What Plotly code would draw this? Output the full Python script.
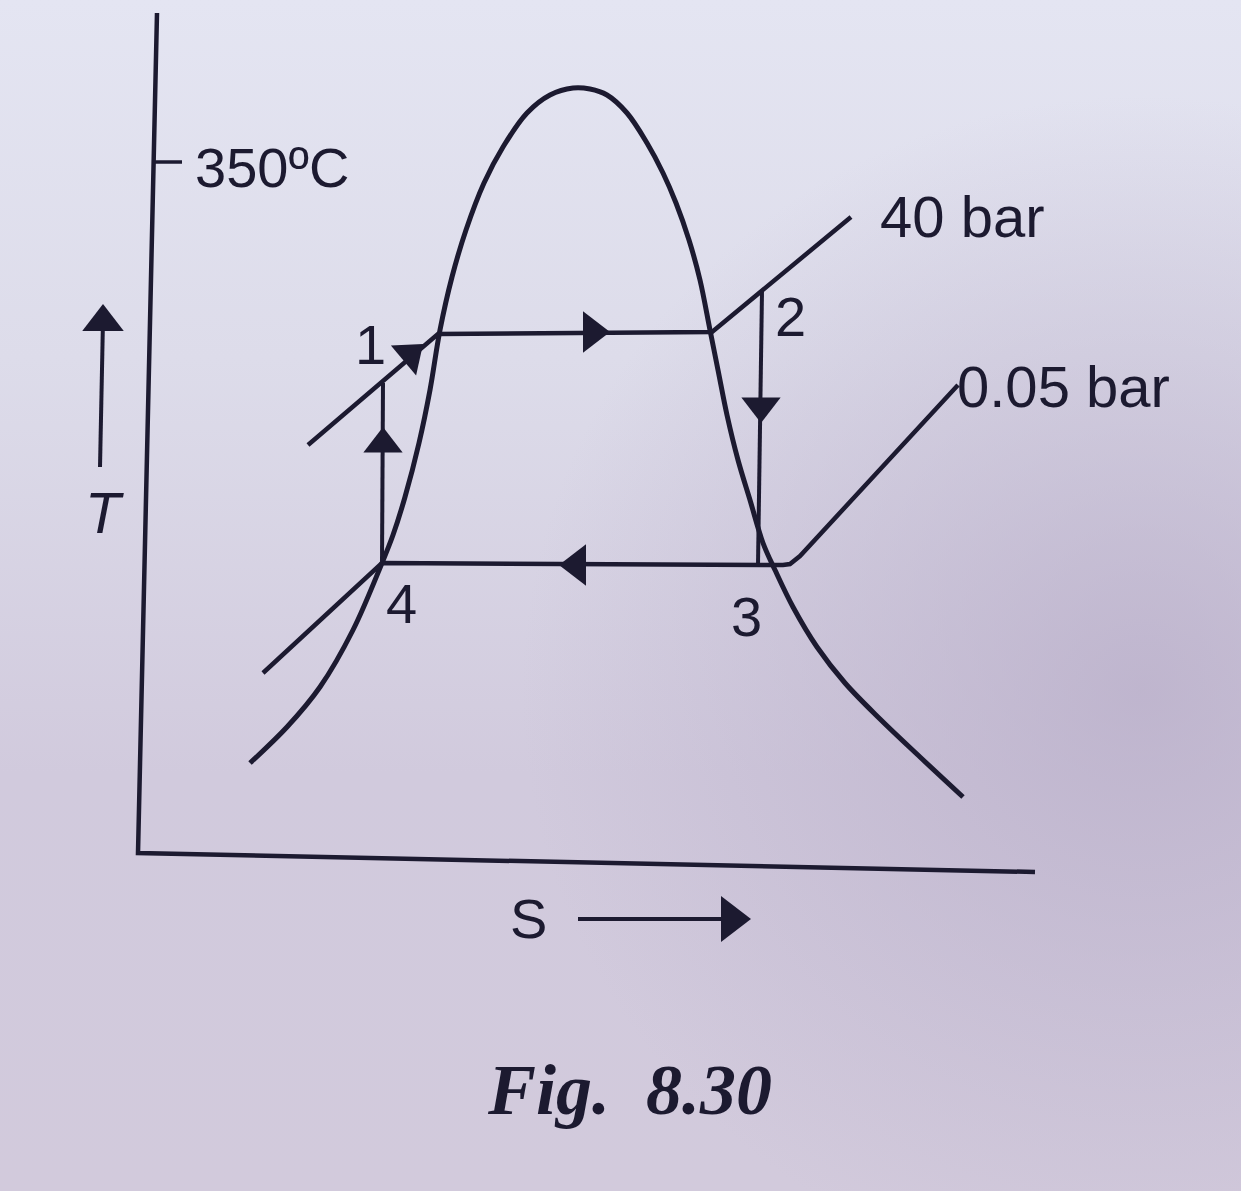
import base64
import plotly.graph_objects as go

W, H = 1241, 1191
INK = "#1c1a30"
BG = "#d8d5e4"

# ---- data (figure units: s to the right, T measured downward as in the picture) ----
# saturation dome
dome_s = [250, 287, 320, 353, 382, 393, 405, 419, 430, 440, 452, 466, 484, 503, 527, 550,
          573, 590, 607, 627, 647, 663, 676, 689, 700, 710, 718, 727, 738, 750, 763, 775,
          793, 817, 845, 880, 920, 963]
dome_T = [763, 727, 687, 630, 563, 535, 497, 443, 390, 330, 277, 230, 183, 147, 113, 95,
          88, 89, 95, 113, 143, 173, 203, 240, 280, 330, 370, 415, 460, 500, 543, 570,
          607, 647, 683, 719, 757, 797]

# 40 bar isobar (compressed liquid -> evaporation -> superheat)
p40_s = [308, 438, 712, 851]
p40_T = [445, 334, 332, 217]

# 0.05 bar isobar (liquid -> condensation -> vapour)
p005_s = [263, 382, 783, 790, 800, 951, 958]
p005_T = [673, 563, 565, 564, 556, 391, 385]

# turbine expansion 2 -> 3 and pump 4 -> 1
turb_s = [762, 758]
turb_T = [291, 565]
pump_s = [382, 383]
pump_T = [563, 383]

# axes of the diagram
axis_s = [157, 138, 1035]
axis_T = [13, 853, 872]
tick_s = [155, 182]
tick_T = [162, 162]

# direction arrows on the cycle and on the axis labels
arrow_s = [592, 761, 577, 383, 410, 103, 731]
arrow_T = [332, 406, 565, 444, 355, 322, 919]
arrow_angle = [90, 180, 270, 0, 50, 0, 90]
arrow_size = [36, 34, 36, 34, 34, 36, 40]

# label shafts for T and S arrows
tshaft_s = [100, 103]
tshaft_T = [467, 320]
sshaft_s = [578, 725]
sshaft_T = [919, 919]

# text labels
point_labels = ["1", "2", "3", "4"]
point_s = [370, 790, 746, 401]
point_T = [344, 316, 616, 603]

pressure_labels = ["40 bar", "0.05 bar"]
pressure_s = [878, 955]
pressure_T = [216, 386]

temp_label = "350ºC"
temp_s, temp_T = 193, 167

fig = go.Figure()

for xs, ys, w, shp in [(dome_s, dome_T, 5, "spline"), (p40_s, p40_T, 4.5, "linear"),
                       (p005_s, p005_T, 4.5, "linear"), (turb_s, turb_T, 4, "linear"),
                       (pump_s, pump_T, 4, "linear"), (axis_s, axis_T, 4.5, "linear"),
                       (tick_s, tick_T, 3.5, "linear"), (tshaft_s, tshaft_T, 4, "linear"),
                       (sshaft_s, sshaft_T, 4, "linear")]:
    fig.add_trace(go.Scatter(
        x=xs, y=ys, mode="lines",
        line=dict(color=INK, width=w, shape=shp, smoothing=1.0 if shp == "spline" else None),
        hoverinfo="skip", showlegend=False))

fig.add_trace(go.Scatter(
    x=arrow_s, y=arrow_T, mode="markers",
    marker=dict(symbol="triangle-up", size=arrow_size, angle=arrow_angle,
                color=INK, opacity=1, line=dict(width=0)),
    hoverinfo="skip", showlegend=False))

sans = "Liberation Sans, Arial, Helvetica, sans-serif"

for t, xs, ys in zip(point_labels, point_s, point_T):
    fig.add_annotation(x=xs, y=ys, text=t, showarrow=False,
                       font=dict(family=sans, size=56, color=INK),
                       xanchor="center", yanchor="middle")

for t, xs, ys in zip(pressure_labels, pressure_s, pressure_T):
    fig.add_annotation(x=xs, y=ys, text=t, showarrow=False,
                       font=dict(family=sans, size=58, color=INK),
                       xanchor="left", yanchor="middle")

fig.add_annotation(x=temp_s, y=temp_T, text=temp_label, showarrow=False,
                   font=dict(family=sans, size=56, color=INK),
                   xanchor="left", yanchor="middle")

fig.add_annotation(x=104, y=512, text="<i>T</i>", showarrow=False,
                   font=dict(family=sans, size=58, color=INK),
                   xanchor="center", yanchor="middle")
fig.add_annotation(x=528, y=918, text="S", showarrow=False,
                   font=dict(family=sans, size=56, color=INK),
                   xanchor="center", yanchor="middle")
fig.add_annotation(x=629, y=1090, text="<b><i>Fig.  8.30</i></b>", showarrow=False,
                   font=dict(family="Liberation Serif, Times New Roman, serif", size=72, color=INK),
                   xanchor="center", yanchor="middle")

# paper-like shading of the photographed page
svg = f'''<svg xmlns="http://www.w3.org/2000/svg" width="{W}" height="{H}" preserveAspectRatio="none">
<defs>
<linearGradient id="g" x1="0" y1="0" x2="0" y2="1">
<stop offset="0" stop-color="#e4e5f2"/>
<stop offset="0.3" stop-color="#dddcea"/>
<stop offset="0.65" stop-color="#d1cadd"/>
<stop offset="1" stop-color="#d2cadc"/>
</linearGradient>
<radialGradient id="r" cx="0.92" cy="0.58" r="0.5">
<stop offset="0" stop-color="#b8adc8" stop-opacity="0.75"/>
<stop offset="1" stop-color="#b8adc8" stop-opacity="0"/>
</radialGradient>
</defs>
<rect x="0" y="0" width="{W}" height="{H}" fill="url(#g)"/>
<rect x="0" y="0" width="{W}" height="{H}" fill="url(#r)"/>
</svg>'''
src = "data:image/svg+xml;base64," + base64.b64encode(svg.encode()).decode()

fig.update_layout(
    width=W, height=H,
    margin=dict(l=0, r=0, t=0, b=0),
    paper_bgcolor=BG, plot_bgcolor="rgba(0,0,0,0)",
    xaxis=dict(range=[0, W], visible=False, fixedrange=True),
    yaxis=dict(range=[H, 0], visible=False, fixedrange=True),
    showlegend=False,
    images=[dict(source=src, xref="paper", yref="paper", x=0, y=1, sizex=1, sizey=1,
                 xanchor="left", yanchor="top", sizing="stretch", layer="below")],
)

fig.write_html("out.html", config={"displayModeBar": False, "staticPlot": True},
               post_script="document.body.style.margin='0';document.body.style.background='%s';" % BG)
